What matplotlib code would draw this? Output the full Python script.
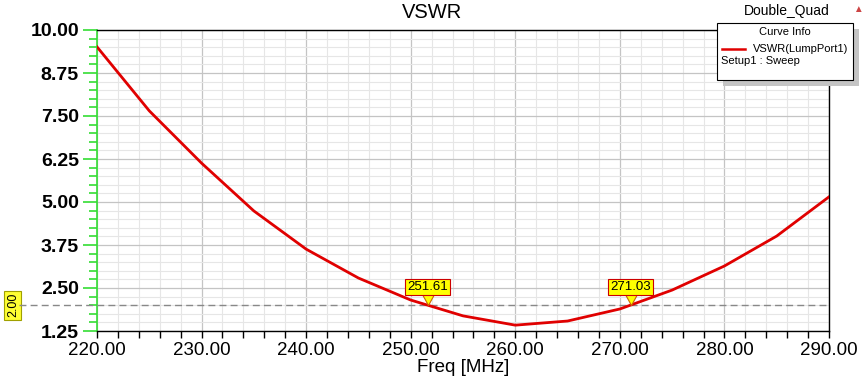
import numpy as np
import matplotlib
matplotlib.use("Agg")
import matplotlib.pyplot as plt
from matplotlib.patches import Rectangle
from matplotlib.ticker import MultipleLocator, FormatStrFormatter
import matplotlib.transforms as mtransforms

# ---- data ----
freq_mhz = [220, 225, 230, 235, 240, 245, 250, 255, 260, 265, 270, 275, 280, 285, 290]
vswr = [9.51, 7.65, 6.13, 4.74, 3.63, 2.79, 2.15, 1.69, 1.42, 1.54, 1.89, 2.44, 3.14, 4.01, 5.15]
marker_freqs = [251.61, 271.03]
marker_level = 2.00

plt.rcParams["font.family"] = ["Liberation Sans", "DejaVu Sans"]

fig = plt.figure(figsize=(8.67, 3.81), dpi=100)
ax = fig.add_axes([97 / 867, 50 / 381, 732 / 867, 301 / 381])

# grid
ax.xaxis.set_major_locator(MultipleLocator(10))
ax.xaxis.set_minor_locator(MultipleLocator(2))
ax.yaxis.set_major_locator(MultipleLocator(1.25))
ax.yaxis.set_minor_locator(MultipleLocator(0.25))
ax.grid(which="major", color="#c4c4c4", lw=0.9)
ax.grid(which="minor", color="#e6e6e6", lw=0.8)
ax.set_axisbelow(True)

ax.plot(freq_mhz, vswr, color="#e00000", lw=2.0, zorder=5, solid_joinstyle="round")

ax.set_xlim(220, 290)
ax.set_ylim(1.25, 10.0)
ax.xaxis.set_major_formatter(FormatStrFormatter("%.2f"))
ax.yaxis.set_major_formatter(FormatStrFormatter("%.2f"))

for s in ["top", "right", "bottom"]:
    ax.spines[s].set_color("black")
    ax.spines[s].set_linewidth(1.0)
ax.spines["left"].set_color("#33dd33")
ax.spines["left"].set_linewidth(1.2)

ax.tick_params(axis="x", which="both", direction="out", length=5, width=1,
               color="black", labelsize=13.5, pad=3)
ax.tick_params(axis="y", which="major", direction="out", length=10, width=1.2,
               color="#33dd33", labelsize=14, pad=3)
ax.tick_params(axis="y", which="minor", direction="out", length=6, width=1.2,
               color="#33dd33")
for lab in ax.get_yticklabels():
    lab.set_fontweight("bold")

ax.set_xlabel("Freq [MHz]", fontsize=13.5, labelpad=0)
fig.text(432 / 867, 1 - 12 / 381, "VSWR", ha="center", va="center", fontsize=14.5)

# 2.00 reference line and label
trans = mtransforms.blended_transform_factory(ax.transAxes, ax.transData)
ax.plot([-0.107, 1.0], [marker_level, marker_level], transform=trans,
        color="#888888", lw=1.0, ls=(0, (5, 3)), clip_on=False, zorder=4)
ax.text(-0.115, marker_level, "%.2f" % marker_level, transform=trans, rotation=90,
        ha="center", va="center", fontsize=9,
        bbox=dict(boxstyle="square,pad=0.2", fc="#ffff33", ec="#a0a000", lw=0.8))

# markers
tri = [(0, 0), (-0.55, 1), (0.55, 1), (0, 0)]
for f in marker_freqs:
    ax.plot(f, marker_level, marker=tri, markersize=16, mfc="#ffff00",
            mec="#cc6600", mew=0.8, zorder=7, clip_on=False)
    ax.annotate("%.2f" % f, xy=(f, marker_level), xytext=(0, 13),
                textcoords="offset points", ha="center", va="center", fontsize=9.5,
                zorder=8,
                bbox=dict(boxstyle="square,pad=0.15", fc="#ffff00", ec="#cc0000", lw=0.8))

# top-right title and curve info box
fig.text(787 / 867, 1 - 11 / 381, "Double_Quad", ha="center", va="center", fontsize=10)
fig.text(858 / 867, 1 - 9 / 381, "\u25b2", ha="center", va="center", fontsize=7,
         color="#cc4444")

x0, x1 = 717 / 867, 853 / 867
y1, y0 = 1 - 23 / 381, 1 - 80 / 381
fig.add_artist(Rectangle((x0 + 6 / 867, y0 - 6 / 381), x1 - x0, y1 - y0,
                         transform=fig.transFigure, fc="#c4c4c4", ec="none", zorder=10))
fig.add_artist(Rectangle((x0, y0), x1 - x0, y1 - y0, transform=fig.transFigure,
                         fc="white", ec="black", lw=0.8, zorder=11))
fig.text((x0 + x1) / 2, 1 - 32 / 381, "Curve Info", ha="center", va="center",
         fontsize=8, zorder=12)
fig.add_artist(plt.Line2D([722 / 867, 745 / 867], [1 - 49 / 381, 1 - 49 / 381],
                          transform=fig.transFigure, color="#e00000", lw=1.8, zorder=12))
fig.text(753 / 867, 1 - 49 / 381, "VSWR(LumpPort1)", ha="left", va="center",
         fontsize=8, zorder=12)
fig.text(721 / 867, 1 - 61 / 381, "Setup1 : Sweep", ha="left", va="center",
         fontsize=8, zorder=12)

fig.savefig("out.png", dpi=100)
